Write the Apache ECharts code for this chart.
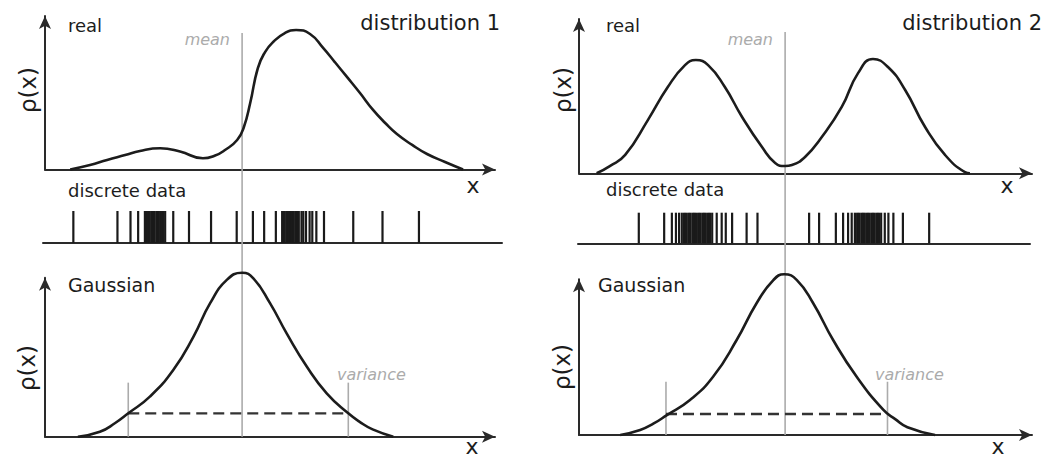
<!DOCTYPE html>
<html>
<head>
<meta charset="utf-8">
<script src="https://cdn.jsdelivr.net/npm/echarts@6/dist/echarts.min.js"></script>
<style>
  html, body { margin: 0; padding: 0; background: #fff; }
  #chart { width: 1055px; height: 459px; }
</style>
</head>
<body>
<div id="chart"></div>
<script>
// ---- Distribution 1 (x on a 0..100 scale, density on a 0..100 scale) ----
const realCurve1 = [
  [5.6, 0], [10, 2.9], [13.8, 6.2], [17.8, 9.4], [21.1, 12.1], [25.6, 13.8],
  [30, 11.7], [35.1, 7.3], [37.8, 9.1], [40, 12.7], [42.7, 19.2], [44.2, 27.7],
  [45.6, 43.3], [47.3, 66.1], [48.9, 76.5], [50.7, 83.1], [53.3, 88.9],
  [55.8, 90.9], [58.9, 88.3], [61.8, 79.2], [64.4, 70], [67.1, 60.3],
  [70, 49.8], [72.9, 38.8], [75.6, 30.3], [78.2, 23.1], [81.6, 16],
  [84.9, 10.1], [88.9, 4.9], [92.9, 0]
];
const samples1 = [
  6.3, 16.1, 19.0, 20.7,
  22.2, 22.6, 22.9, 23.3, 23.8, 24.1, 24.4, 24.9, 25.3, 25.7, 26.0, 26.3, 26.7,
  28.5, 32.0, 36.9, 42.6, 46.2, 48.7, 51.3,
  52.7, 53.0, 53.3, 53.8, 54.2, 54.6, 54.9, 55.3, 55.8, 56.1, 56.4,
  57.0, 57.4, 58.0, 58.8, 59.4, 60.3, 62.0, 68.5, 75.0, 83.1
];
const gaussCurve1 = [
  [7.3, 0], [12.2, 3.1], [15.6, 8.6], [18.5, 14.7], [23.3, 25.2], [28.5, 42], [33, 63],
  [36.7, 84], [40.4, 98.6], [43.8, 103.1], [46.3, 99.6], [50, 84],
  [53.7, 65], [58.2, 44], [62.6, 27.3], [67.4, 14.7], [70, 9.2], [72.8, 4.6], [77.4, 0]
];
const mean1 = 43.8;
const variance1 = [18.5, 67.4];   // left / right marker positions
const varianceLevel1 = 14.7;      // height of the dashed width bar
const varianceMarkTop1 = 34;

// ---- Distribution 2 ----
const realCurve2 = [
  [3.9, 0], [6.8, 4.7], [10.2, 11.9], [15.2, 34.5], [19.6, 55.9], [23.4, 70.1],
  [25.8, 73.4], [28.5, 70.1], [32.2, 55.9], [36, 36.5], [40.4, 17], [43.3, 6.7],
  [45.5, 4.7], [47, 5.4], [49.9, 10.6], [53.6, 23.5], [58, 43], [61.6, 64.9],
  [64.9, 74.1], [68.2, 68.9], [72, 54], [76.4, 30], [80.8, 11.9], [85.2, 0.8],
  [86.3, 0]
];
const samples2 = [
  13.2, 18.8, 20.5, 21.4, 22.1,
  22.7, 23.2, 23.6, 24.1, 24.5, 25.0, 25.4, 25.8, 26.3, 26.7, 27.2, 27.6, 28.0, 28.5, 28.9, 29.4,
  30.4, 31.5, 32.4, 33.8, 37.0, 39.4,
  50.8, 53.0, 56.7, 58.3, 59.4, 60.2,
  60.9, 61.4, 61.8, 62.3, 62.7, 63.1, 63.6, 64.0, 64.5, 64.9, 65.3, 65.8, 66.2, 66.7,
  67.5, 68.3, 69.4, 71.5, 77.3
];
const gaussCurve2 = [
  [9.1, 0], [13.5, 3.2], [16.5, 7.4], [19.4, 12.8], [24.5, 22.5], [29.6, 37.4], [34.8, 61],
  [39.2, 84.6], [42.9, 99.5], [45.3, 103.2], [48.1, 99.5], [51.7, 84.6],
  [56.1, 61], [61.3, 37.4], [67.2, 16.1], [69.8, 10.2], [72.5, 5], [78.6, 0]
];
const mean2 = 45.5;
const variance2 = [19.2, 68.1];
const varianceLevel2 = 13.5;
const varianceMarkTop2 = 34.2;

// ---- Layout ----
const INK = '#1c1c1c';
const AXIS_INK = '#2a2a2a';
const GREY = '#ababab';
const FONT = '"DejaVu Sans", "Liberation Sans", sans-serif';

// column geometry: plot left edge, plot width, and rows
const columns = [
  { left: 45, width: 450, top: [16, 169.5], strip: [43, 502, 211, 243], bottom: [277.7, 436.7], meanSpan: [33, 436.7] },
  { left: 579, width: 453, top: [19, 173.3], strip: [578, 1030, 212.7, 243.3], bottom: [279.3, 435], meanSpan: [32, 435] }
];

const grid = [], xAxis = [], yAxis = [];

function arrowLine() {
  return { show: true, symbol: ['none', 'arrow'], symbolSize: [9, 13],
           lineStyle: { color: AXIS_INK, width: 2 } };
}
function bare(extra) {
  return Object.assign({ axisTick: { show: false }, axisLabel: { show: false },
                         splitLine: { show: false } }, extra);
}

columns.forEach(c => {
  const pxPerUnit = c.width / 100;
  // density panel
  grid.push({ left: c.left, top: c.top[0], width: c.width, height: c.top[1] - c.top[0] });
  // sample strip: same x scale, baseline stretched slightly past the plot
  const sl = c.strip[0], sr = c.strip[1];
  grid.push({ left: sl, top: c.strip[2], width: sr - sl, height: c.strip[3] - c.strip[2] });
  // gaussian panel
  grid.push({ left: c.left, top: c.bottom[0], width: c.width, height: c.bottom[1] - c.bottom[0] });
  // overlay for the mean marker spanning all three rows
  grid.push({ left: c.left, top: c.meanSpan[0], width: c.width, height: c.meanSpan[1] - c.meanSpan[0] });

  const g = grid.length - 4;
  xAxis.push(bare({ type: 'value', gridIndex: g, min: 0, max: 100, axisLine: arrowLine() }));
  yAxis.push(bare({ type: 'value', gridIndex: g, min: 0, max: 100, axisLine: arrowLine() }));

  xAxis.push(bare({ type: 'value', gridIndex: g + 1,
    min: (sl - c.left) / pxPerUnit, max: (sr - c.left) / pxPerUnit,
    axisLine: { show: true, lineStyle: { color: AXIS_INK, width: 2 } } }));
  yAxis.push(bare({ type: 'value', gridIndex: g + 1, min: 0, max: 1, show: false }));

  xAxis.push(bare({ type: 'value', gridIndex: g + 2, min: 0, max: 100, axisLine: arrowLine() }));
  yAxis.push(bare({ type: 'value', gridIndex: g + 2, min: 0, max: 100, axisLine: arrowLine() }));

  xAxis.push(bare({ type: 'value', gridIndex: g + 3, min: 0, max: 100, show: false }));
  yAxis.push(bare({ type: 'value', gridIndex: g + 3, min: 0, max: 1, show: false }));
});

function curve(axisIdx, data) {
  return { type: 'line', xAxisIndex: axisIdx, yAxisIndex: axisIdx, data: data,
           smooth: 0.5, showSymbol: false, clip: false, silent: true, z: 4,
           lineStyle: { color: INK, width: 2.6 } };
}
function segment(axisIdx, data, color, width, type, z) {
  return { type: 'line', xAxisIndex: axisIdx, yAxisIndex: axisIdx, data: data,
           showSymbol: false, clip: false, silent: true, z: z,
           lineStyle: { color: color, width: width, type: type } };
}
function ticks(axisIdx, values) {
  return { type: 'custom', xAxisIndex: axisIdx, yAxisIndex: axisIdx, silent: true, z: 3,
    data: values.map(v => [v, 1]),
    encode: { x: 0, y: 1 },
    renderItem: function (params, api) {
      const a = api.coord([api.value(0), 0]);
      const b = api.coord([api.value(0), 1]);
      return { type: 'line', shape: { x1: a[0], y1: a[1], x2: b[0], y2: b[1] },
               style: { stroke: '#1a1a1a', lineWidth: 2.2 } };
    } };
}

const sets = [
  { real: realCurve1, samples: samples1, gauss: gaussCurve1, mean: mean1,
    variance: variance1, level: varianceLevel1, markTop: varianceMarkTop1 },
  { real: realCurve2, samples: samples2, gauss: gaussCurve2, mean: mean2,
    variance: variance2, level: varianceLevel2, markTop: varianceMarkTop2 }
];

const series = [];
sets.forEach((s, i) => {
  const g = i * 4;
  series.push(segment(g + 3, [[s.mean, 0], [s.mean, 1]], GREY, 1.6, 'solid', 1));
  series.push(curve(g, s.real));
  series.push(ticks(g + 1, s.samples));
  series.push(segment(g + 2, [[s.variance[0], 0], [s.variance[0], s.markTop]], GREY, 1.6, 'solid', 2));
  series.push(segment(g + 2, [[s.variance[1], 0], [s.variance[1], s.markTop]], GREY, 1.6, 'solid', 2));
  series.push(segment(g + 2, [[s.variance[0], s.level], [s.variance[1], s.level]], '#333333', 2.4, [11, 6], 3));
  series.push(curve(g + 2, s.gauss));
});

// ---- Labels ----
function label(text, x, y, size, opts) {
  opts = opts || {};
  return {
    type: 'text', x: x, y: y, rotation: opts.rotate || 0, z: 10, silent: true,
    style: {
      text: text, fill: opts.color || INK,
      font: (opts.italic ? 'italic ' : '') + size + 'px ' + FONT,
      textAlign: opts.align || 'left', textVerticalAlign: 'middle'
    }
  };
}

const graphic = [
  label('real', 68, 25, 18),
  label('distribution 1', 500, 22.6, 21, { align: 'right' }),
  label('mean', 230, 39.4, 16, { color: GREY, italic: true, align: 'right' }),
  label('ρ(x)', 28, 90, 23, { align: 'center', rotate: Math.PI / 2 }),
  label('x', 473, 185.6, 22, { align: 'center' }),
  label('discrete data', 68, 190, 18),
  label('Gaussian', 68, 285, 19),
  label('ρ(x)', 27, 368, 23, { align: 'center', rotate: Math.PI / 2 }),
  label('variance', 337, 374, 16, { color: GREY, italic: true }),
  label('x', 472, 446, 22, { align: 'center' }),

  label('real', 606, 25.5, 18),
  label('distribution 2', 1042, 22.6, 21, { align: 'right' }),
  label('mean', 773, 39.4, 16, { color: GREY, italic: true, align: 'right' }),
  label('ρ(x)', 563, 90, 23, { align: 'center', rotate: Math.PI / 2 }),
  label('x', 1007, 185.6, 22, { align: 'center' }),
  label('discrete data', 606, 189, 18),
  label('Gaussian', 598, 285, 19),
  label('ρ(x)', 562, 367, 23, { align: 'center', rotate: Math.PI / 2 }),
  label('variance', 875, 374, 16, { color: GREY, italic: true }),
  label('x', 998, 446, 22, { align: 'center' })
];

const chart = echarts.init(document.getElementById('chart'), null, { renderer: 'svg' });
chart.setOption({
  animation: false,
  backgroundColor: '#ffffff',
  grid: grid,
  xAxis: xAxis,
  yAxis: yAxis,
  series: series,
  graphic: graphic
});
</script>
</body>
</html>
